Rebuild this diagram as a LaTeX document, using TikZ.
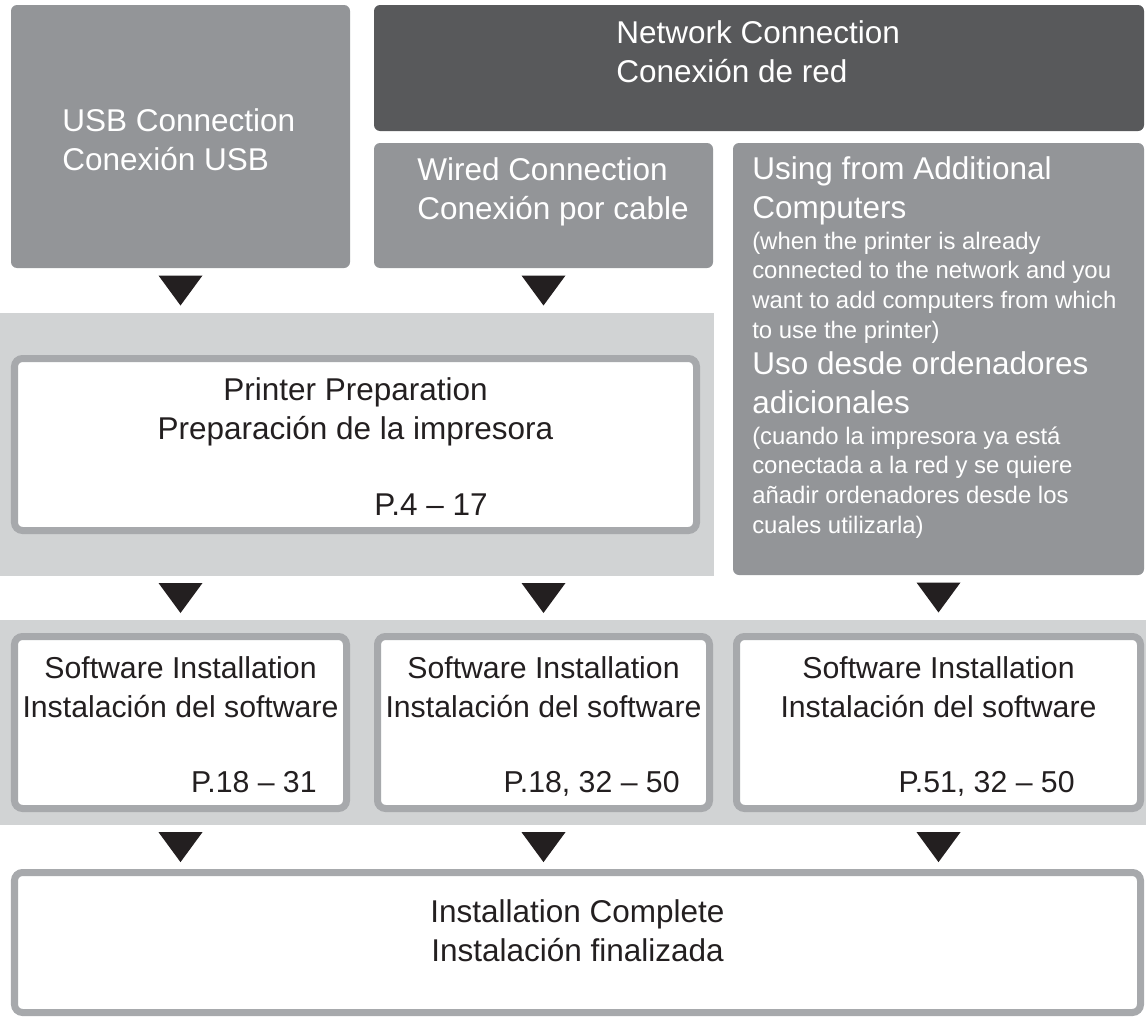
\documentclass[tikz,border=0pt]{standalone}
\usepackage{fontspec}
\setmainfont{Liberation Sans}
\usetikzlibrary{fit}
\definecolor{boxgray}{HTML}{939598}
\definecolor{netgray}{HTML}{58595B}
\definecolor{bandgray}{HTML}{D1D3D4}
\definecolor{framegray}{HTML}{A7A9AC}
\definecolor{ink}{HTML}{231F20}
\def\headfont{\fontsize{22.4}{27.4}\selectfont}
\def\swfont{\fontsize{21.5}{27.4}\selectfont}
\def\notefont{\fontsize{17}{21}\selectfont}
\def\downtri#1#2#3{\path (#1.center |- #2) -- (#1.center |- #3) coordinate[midway] (tmp);
  \fill[ink] (tmp) ++(-22,-15) -- ++(44,0) -- ++(-22,30) -- cycle;}
\tikzset{
  graybox/.style={fill=boxgray,rounded corners=0.15cm,inner sep=0pt},
  netbox/.style={fill=netgray,rounded corners=0.15cm,inner sep=0pt},
  band/.style={fill=bandgray,inner sep=0pt},
  framebox/.style={fill=white,draw=framegray,line width=0.175cm,rounded corners=0.2cm,inner sep=0pt},
  wtxt/.style={text=white,inner sep=0pt,align=left,font=\headfont},
  ntxt/.style={text=white,inner sep=0pt,align=left,font=\notefont},
  btxt/.style={text=ink,inner sep=0pt,font=\headfont},
  swtxt/.style={text=ink,inner sep=0pt,font=\swfont}
}

\begin{document}
\begin{tikzpicture}[x=0.025cm,y=-0.025cm]
\useasboundingbox (0,0) rectangle (1146,1019);
%connection type (base = last line)
  \node[graybox,fit={(11,5) (350,268)}] (usb) {};
  \node[netbox,fit={(374,5) (1144,131)}] (net) {};
  \node[graybox,fit={(374,143) (713,268)}] (wired) {};
  \node[graybox,fit={(733,143) (1144,575)}] (using) {};
  \node[wtxt,anchor=base west] (usbtxt) at (62,170) {USB Connection\\Conexión USB};
  \node[wtxt,anchor=base west] (nettxt) at (616,82) {Network Connection\\Conexión de red};
  \node[wtxt,anchor=base west] (wiredtxt) at (417,219) {Wired Connection\\Conexión por cable};
  \node[wtxt,anchor=base west] (usingtxt) at (752,218) {Using from Additional\\Computers};
  \node[ntxt,anchor=base west] (usingnote) at (752,338) {(when the printer is already\\connected to the network and you\\want to add computers from which\\to use the printer)};
  \node[wtxt,anchor=base west] (usotxt) at (752,413) {Uso desde ordenadores\\adicionales};
  \node[ntxt,anchor=base west] (usonote) at (752,533) {(cuando la impresora ya está\\conectada a la red y se quiere\\añadir ordenadores desde los\\cuales utilizarla)};
%printer preparation
  \node[band,fit={(0,313) (714,576)}] (band1) {};
  \node[framebox,fit={(14.5,358.5) (696.5,530.5)}] (prep) {};
  \node[btxt,anchor=base] (preptitle) at (355.5,400) {Printer Preparation};
  \node[btxt,anchor=base] (prepsub) at (355.5,439) {Preparación de la impresora};
  \node[btxt,anchor=base east] (prepref) at (preptitle.east |- 0,515) {P.4 – 17};
%software installation
  \node[band,fit={(0,620) (1146,825)}] (band2) {};
  \node[framebox,fit={(14.5,636.5) (346.5,808.5)}] (swa) {};
  \node[framebox,fit={(377.5,636.5) (709.5,808.5)}] (swb) {};
  \node[framebox,fit={(736.5,636.5) (1140.5,808.5)}] (swc) {};
  \node[swtxt,anchor=base] (swatitle) at (180.5,678) {Software Installation};
  \node[swtxt,anchor=base] (swasub) at (180.5,717) {Instalación del software};
  \node[swtxt,anchor=base east] (swaref) at (swatitle.east |- 0,792) {P.18 – 31};
  \node[swtxt,anchor=base] (swbtitle) at (543.5,678) {Software Installation};
  \node[swtxt,anchor=base] (swbsub) at (543.5,717) {Instalación del software};
  \node[swtxt,anchor=base east] (swbref) at (swbtitle.east |- 0,792) {P.18, 32 – 50};
  \node[swtxt,anchor=base] (swctitle) at (938.5,678) {Software Installation};
  \node[swtxt,anchor=base] (swcsub) at (938.5,717) {Instalación del software};
  \node[swtxt,anchor=base east] (swcref) at (swctitle.east |- 0,792) {P.51, 32 – 50};
%installation complete
  \node[framebox,fit={(14.5,872.5) (1140.5,1012.5)}] (done) {};
  \node[btxt,anchor=base] (donetitle) at (577.5,922) {Installation Complete};
  \node[btxt,anchor=base] (donesub) at (577.5,961) {Instalación finalizada};
%arrows
  \downtri{usb}{usb.south}{band1.north}
  \downtri{wired}{wired.south}{band1.north}
  \downtri{usb}{band1.south}{band2.north}
  \downtri{wired}{band1.south}{band2.north}
  \downtri{using}{using.south}{band2.north}
  \downtri{usb}{band2.south}{done.north}
  \downtri{wired}{band2.south}{done.north}
  \downtri{using}{band2.south}{done.north}
\end{tikzpicture}
\end{document}
